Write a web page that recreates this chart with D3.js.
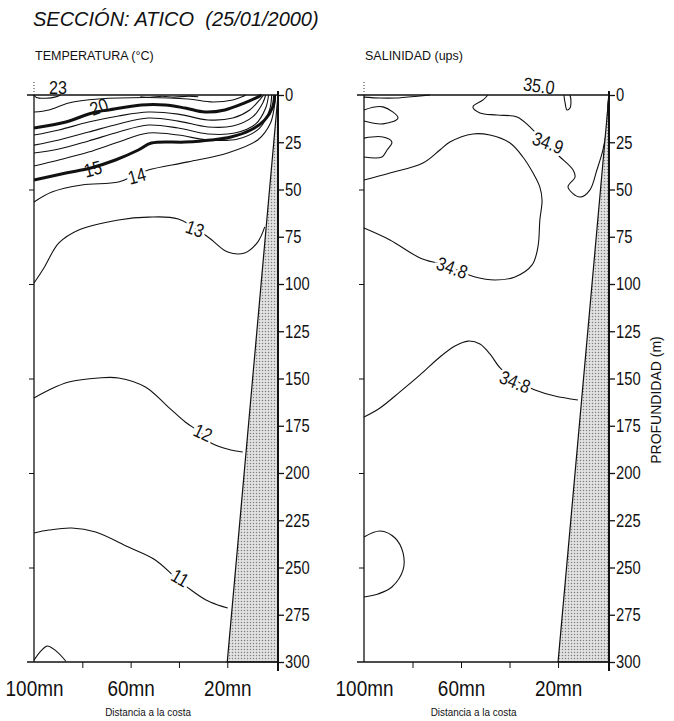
<!DOCTYPE html>
<html><head><meta charset="utf-8">
<script src="https://cdn.jsdelivr.net/npm/d3@7"></script>
<style>body{margin:0;background:#fff}svg{display:block}</style>
</head><body>
<svg id="chart" width="674" height="721"></svg>
<script>
// ---------- DATA (distance in mn, depth in m) ----------
const depthTicks = [0,25,50,75,100,125,150,175,200,225,250,275,300];
const leftTicks = [50,100,150,200,250];
const distLabels = [100,60,20];
const distMinor = [80,60,40,20];
const shelf = [[-1,0],[20,300],[-1,300]];

// Temperature contours (°C)
const t23 = [[100,0],[99,1.3],[95,1.7],[91,1.0],[89,0]];
const t22 = [[56,0.9],[52,1.2],[47,0.7],[42,1.1],[36,0.6],[32,0.9]];
const t21 = [[100,9.0],[93.8,7.9],[85.6,4.2],[73.3,2.1],[52.7,1.3],[36.2,2.1],[25.9,3.7],[17.7,2.6],[13.6,0.8],[12.4,0]];
const t20 = [[100,17.5],[86.8,14.3],[78.6,10.6],[74.5,9.0],[69.1,7.9],[55.6,5.3],[45.7,5.3],[37.4,6.9],[29.2,9.0],[21.0,7.9],[12.8,4.2],[7.4,1.1],[5.8,0]];
const t19 = [[100,21.2],[89.7,18.5],[77.4,14.3],[65.0,11.1],[52.7,9.0],[40.3,10.1],[28.0,13.2],[17.7,12.2],[10.7,7.9],[6.6,2.6],[4.9,0]];
const t18 = [[100,26.5],[89.7,23.8],[77.4,19.6],[65.0,15.3],[52.7,12.2],[40.3,13.8],[28.0,16.9],[17.7,16.4],[9.5,11.6],[5.3,4.2],[4.1,0]];
const t17 = [[100,30.7],[89.7,28.6],[77.4,24.3],[65.0,19.6],[52.7,15.9],[40.3,17.5],[28.0,20.6],[16.9,20.1],[8.2,15.3],[4.1,6.9],[2.9,0]];
const t16 = [[100,37.6],[89.7,34.4],[77.4,30.2],[65.0,24.9],[52.7,20.1],[40.3,21.2],[28.0,23.8],[15.6,23.3],[6.6,17.5],[2.5,7.9],[1.6,0]];
const t15 = [[100,45.0],[86.8,41.3],[76.5,38.6],[66.3,34.4],[56.8,29.1],[51.4,25.4],[37.4,24.9],[26.7,23.8],[18.5,22.2],[10.3,18.5],[4.5,13.2],[1.2,6.3],[0.4,0]];
const t14 = [[100,56.6],[92.6,51.3],[80.2,47.6],[65.0,46.0],[58.0,42.3],[52.7,39.7],[36.2,35.4],[19.8,30.7],[7.4,23.8],[2.1,14.8],[0.4,5.3],[0,1.1]];
const t13 = [[100,99.5],[95.9,91.5],[89.7,78.3],[81.5,71.4],[65.0,66.1],[52.7,64.6],[40.3,65.6],[28.0,75.1],[19.8,83.1],[12.8,83.6],[7.4,77.8],[4.5,69.8]];
const t12 = [[100,160.3],[93.8,156.1],[85.6,151.9],[73.3,149.7],[65.0,149.7],[53.9,154.5],[44.4,165.1],[37.4,173.0],[30.9,178.8],[26.7,184.1],[18.5,187.8],[13.6,188.9]];
const t11 = [[100,231.7],[93.8,230.2],[84.4,229.1],[74.5,231.2],[60.9,239.2],[49.8,246.0],[41.2,255.6],[35.0,261.9],[28.8,267.2],[23.9,269.8],[19.8,271.4]];
const t11b = [[100,299],[97,294],[94.5,291.5],[91,294],[86.8,299.6]];
const tempThin = [t23,t22,t21,t19,t18,t17,t16,t14,t13,t12,t11,t11b];
const tempThick = [t20,t15];
const tempLabelText = ["23","20","15","14","13","12","11"];
const tempLabelAt = [[90.1,-3.7],[73.1,6.3],[75.6,39.2],[57.4,42.9],[33.4,70.9],[30.1,178.8],[39.6,255.6]];

// Salinity contours (ups)
const s35a = [[100,1.1],[93.4,1.6],[87.2,1.6],[76.9,0.5],[72.8,0]];
const s35u = [[17.6,0],[17.1,4.2],[16.3,7.9],[15.1,6.9],[14.7,2.6],[15.1,0]];
const s349 = [[48.9,0],[50.9,2.6],[55.1,6.3],[52.2,9.5],[45.2,10.6],[36.9,11.6],[31.6,16.9],[24.6,26.5],[19.2,32.8],[13.8,39.7],[13.0,43.4],[15.9,48.7],[11.0,54.0],[6.9,50.3],[4.0,39.7],[1.5,29.1],[-0.1,16.9],[-0.5,5.3],[-0.9,0.5]];
const sLoop1 = [[100,7.9],[92.2,6.3],[86.0,12.2],[92.2,15.3],[100,13.8]];
const sLoop2 = [[100,22.8],[92.2,22.2],[88.5,24.9],[90.5,29.1],[92.6,32.8],[100,32.8]];
const s348a = [[100,45.0],[89.3,41.3],[75.7,36.0],[68.7,29.1],[64.6,24.9],[55.1,20.6],[48.1,21.2],[39.8,25.4],[34.5,32.8],[30.3,41.3],[27.5,48.7],[26.6,55.6],[27.5,66.1],[28.3,80.4],[30.7,89.9],[37.8,96.3],[46.0,97.9],[54.2,96.3],[62.5,92.1],[68.7,89.4],[76.9,86.2],[89.3,76.7],[100,70.4]];
const s348b = [[100,170.4],[93.4,165.6],[85.2,157.1],[76.9,148.1],[68.7,138.6],[62.5,132.8],[57.1,130.2],[52.2,131.7],[48.1,137.0],[43.9,144.4],[37.8,150.8],[29.5,156.1],[21.3,159.3],[11.8,161.4]];
const sLoop3 = [[100,233.9],[93.4,230.7],[87.2,234.4],[83.9,242.3],[83.9,251.3],[88.5,260.3],[94.2,264.0],[100,265.6]];
const salLines = [s35a,s35u,s349,sLoop1,sLoop2,s348a,s348b,sLoop3];
const salLabelText = ["35.0","34.9","34.8","34.8"];
const salLabelAt = [[27.9,-4.8],[24.2,25.4],[63.7,91.5],[37.8,151.9]];

// ---------- DRAW ----------
const svg = d3.select("#chart");
const SANS = "'Liberation Sans',Arial,Helvetica,sans-serif";

function squeeze(sel, s){
  sel.each(function(){
    const t = d3.select(this);
    const x = +t.attr("x") || 0;
    t.attr("x",0).attr("transform",`translate(${x},0) scale(${s},1)`);
  });
}

const defs = svg.append("defs");
const pat = defs.append("pattern").attr("id","dots").attr("width",3).attr("height",3).attr("patternUnits","userSpaceOnUse");
pat.append("rect").attr("width",3).attr("height",3).attr("fill","#e2e2e2");
pat.append("circle").attr("cx",1.5).attr("cy",1.5).attr("r",0.75).attr("fill","#808080");

const y = d3.scaleLinear().domain([0,300]).range([95,662]);

svg.append("text").attr("x",33).attr("y",26).attr("font-family",SANS).attr("font-style","italic")
  .attr("font-size",20).attr("fill","#111").attr("xml:space","preserve").style("white-space","pre")
  .text("SECCIÓN: ATICO\u00A0 (25/01/2000)");

function panel(x0,x1,title,thin,thick,labText,labAt,labRot,labHalo,dxLabel){
  const x = d3.scaleLinear().domain([100,-1]).range([x0,x1]);
  const line = d3.line().x(p=>x(p[0])).y(p=>y(p[1])).curve(d3.curveCatmullRom.alpha(0.5));
  const g = svg.append("g");
  g.append("text").attr("x",x0+1).attr("y",60).attr("font-family",SANS).attr("font-size",12.5).attr("fill","#111").text(title);

  g.selectAll("path.thin").data(thin).join("path").attr("class","thin").attr("d",line).attr("fill","none").attr("stroke","#111").attr("stroke-width",1.1);
  g.selectAll("path.thick").data(thick).join("path").attr("class","thick").attr("d",line).attr("fill","none").attr("stroke","#111").attr("stroke-width",3);

  // shelf
  g.append("path").attr("d",d3.line().x(p=>x(p[0])).y(p=>y(p[1]))(shelf)+"Z").attr("fill","url(#dots)").attr("stroke","#111").attr("stroke-width",1.2);

  // frame
  g.append("line").attr("x1",x0-7).attr("x2",x1).attr("y1",y(0)).attr("y2",y(0)).attr("stroke","#111").attr("stroke-width",1.4);
  g.append("line").attr("x1",x0-7).attr("x2",x1).attr("y1",y(300)).attr("y2",y(300)).attr("stroke","#111").attr("stroke-width",1.6);
  g.append("line").attr("x1",x0).attr("x2",x0).attr("y1",y(0)).attr("y2",y(300)).attr("stroke","#111").attr("stroke-width",1.3);
  g.append("line").attr("x1",x0).attr("x2",x0).attr("y1",y(0)-13).attr("y2",y(0)).attr("stroke","#333").attr("stroke-width",1).attr("stroke-dasharray","1,2");
  g.append("line").attr("x1",x1).attr("x2",x1).attr("y1",y(0)-4).attr("y2",y(300)+9).attr("stroke","#111").attr("stroke-width",2);

  // left ticks
  const la = d3.axisLeft(y).tickValues(leftTicks).tickSize(5).tickFormat("");
  g.append("g").attr("transform",`translate(${x0},0)`).call(la).call(s=>s.select(".domain").remove())
    .selectAll("line").attr("stroke","#111");
  // right depth axis
  const ra = d3.axisRight(y).tickValues(depthTicks).tickSize(6).tickPadding(1).tickFormat(d=>d);
  const rg = g.append("g").attr("transform",`translate(${x1},0)`).call(ra);
  rg.select(".domain").remove();
  rg.selectAll("line").attr("stroke","#111").attr("stroke-width",1.3);
  rg.selectAll("text").attr("font-family",SANS).attr("font-size",18).attr("fill","#111").call(squeeze,0.82);
  // bottom minor ticks
  const ba = d3.axisBottom(x).tickValues(distMinor).tickSize(6).tickFormat("");
  g.append("g").attr("transform",`translate(0,${y(300)})`).call(ba).call(s=>s.select(".domain").remove())
    .selectAll("line").attr("stroke","#111");
  // bottom labels
  const bl = d3.axisBottom(x).tickValues(distLabels).tickSize(0).tickPadding(19).tickFormat(d=>d+"mn");
  const bg = g.append("g").attr("transform",`translate(0,${y(300)})`).call(bl);
  bg.select(".domain").remove();
  bg.selectAll("text").attr("font-family",SANS).attr("font-size",21.5).attr("fill","#111").call(squeeze,0.88);
  const cx = (x0+x1)/2 + dxLabel;
  g.append("text").attr("transform",`translate(${cx},716) scale(0.9,1)`).attr("text-anchor","middle").attr("font-family",SANS)
    .attr("font-size",11).attr("fill","#111").text("Distancia a la costa");

  // contour labels
  labText.forEach((t,i)=>{
    const px = x(labAt[i][0]), py = y(labAt[i][1]);
    g.append("text").attr("transform",`translate(${px},${py}) rotate(${labRot[i]}) scale(0.85,1)`)
      .attr("text-anchor","middle").attr("dominant-baseline","central")
      .attr("font-family",SANS).attr("font-size",19).attr("fill","#111")
      .attr("stroke",labHalo[i]?"#fff":"none").attr("stroke-width",6).attr("paint-order","stroke")
      .text(t);
  });
  return x;
}

panel(34,278,"TEMPERATURA (°C)",tempThin,tempThick,tempLabelText,tempLabelAt,[0,-20,-15,-15,20,25,30],[false,false,false,true,true,true,true],-8);
panel(364,609,"SALINIDAD (ups)",salLines,[],salLabelText,salLabelAt,[8,20,20,22],[false,true,true,true],-13);

svg.append("text").attr("transform","translate(661,400) rotate(-90)").attr("text-anchor","middle")
  .attr("font-family",SANS).attr("font-size",14).attr("fill","#111").text("PROFUNDIDAD (m)");
</script>
</body></html>
